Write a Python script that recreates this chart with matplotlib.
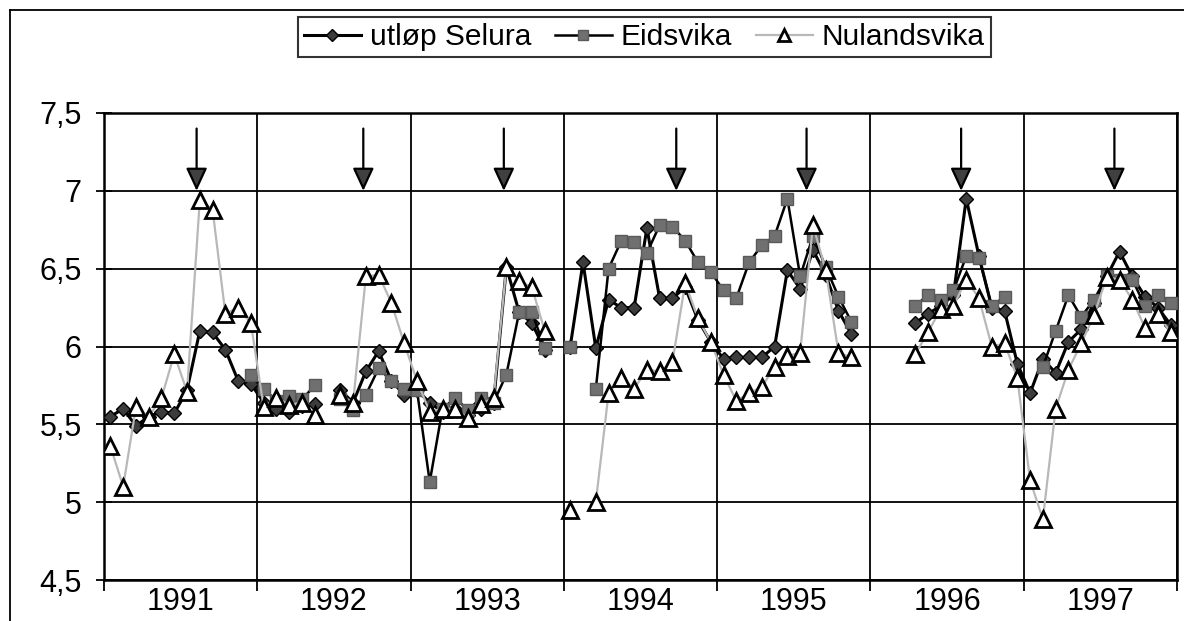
import numpy as np
import matplotlib
matplotlib.use('Agg')
import matplotlib.pyplot as plt
from matplotlib.lines import Line2D

nan = np.nan

# monthly slots, 12 per year, 1991-1997
years = ['1991', '1992', '1993', '1994', '1995', '1996', '1997']

selura = [
    5.55, 5.60, 5.49, 5.55, 5.58, 5.57, 5.72, 6.10, 6.09, 5.98, 5.78, 5.76,
    5.64, 5.60, 5.58, 5.62, 5.63, nan, 5.72, 5.64, 5.84, 5.97, 5.78, 5.69,
    5.72, 5.64, 5.58, 5.60, 5.56, 5.60, 5.64, 6.51, 6.22, 6.15, 5.98, nan,
    6.00, 6.54, 5.99, 6.30, 6.25, 6.25, 6.76, 6.31, 6.31, 6.38, 6.17, 6.03,
    5.92, 5.93, 5.93, 5.93, 6.00, 6.49, 6.37, 6.62, 6.46, 6.23, 6.08, nan,
    nan, nan, nan, 6.15, 6.21, 6.26, 6.33, 6.95, 6.58, 6.25, 6.23, 5.89,
    5.70, 5.92, 5.83, 6.03, 6.11, 6.28, 6.45, 6.61, 6.45, 6.32, 6.25, 6.14,
]

eidsvika = [
    nan, nan, nan, nan, nan, nan, nan, nan, nan, nan, nan, 5.82,
    5.73, 5.65, 5.68, 5.66, 5.75, nan, 5.665, 5.59, 5.69, 5.86, 5.78, 5.73,
    5.72, 5.13, 5.60, 5.67, 5.59, 5.67, 5.64, 5.82, 6.22, 6.22, 5.99, nan,
    6.00, nan, 5.725, 6.50, 6.68, 6.67, 6.60, 6.78, 6.77, 6.68, 6.54, 6.48,
    6.36, 6.31, 6.54, 6.65, 6.71, 6.95, 6.45, 6.71, 6.51, 6.32, 6.16, nan,
    nan, nan, nan, 6.26, 6.33, 6.30, 6.36, 6.58, 6.57, 6.26, 6.32, nan,
    nan, 5.87, 6.10, 6.33, 6.19, 6.30, 6.45, 6.43, 6.43, 6.26, 6.33, 6.28,
]

nulandsvika = [
    5.36, 5.10, 5.61, 5.55, 5.67, 5.95, 5.71, 6.94, 6.88, 6.21, 6.25, 6.15,
    5.61, 5.67, 5.625, 5.64, 5.56, nan, 5.69, 5.64, 6.45, 6.46, 6.28, 6.02,
    5.78, 5.58, 5.60, 5.60, 5.54, 5.63, 5.67, 6.51, 6.42, 6.38, 6.10, nan,
    4.95, nan, 5.00, 5.70, 5.80, 5.73, 5.85, 5.84, 5.90, 6.41, 6.18, 6.03,
    5.82, 5.65, 5.70, 5.74, 5.87, 5.94, 5.96, 6.78, 6.49, 5.96, 5.93, nan,
    nan, nan, nan, 5.95, 6.09, 6.24, 6.26, 6.43, 6.31, 6.00, 6.02, 5.80,
    5.14, 4.89, 5.60, 5.85, 6.02, 6.20, 6.445, 6.43, 6.30, 6.12, 6.21, 6.09,
]

# arrow positions (in month slots from Jan 1991)
arrows = [7.25, 20.3, 31.3, 44.8, 55.0, 67.1, 79.1]

yticks = [4.5, 5, 5.5, 6, 6.5, 7, 7.5]
ytick_labels = ['4,5', '5', '5,5', '6', '6,5', '7', '7,5']

plt.rcParams['font.family'] = ['Liberation Sans', 'DejaVu Sans']

W, H = 1184, 621
fig = plt.figure(figsize=(W / 100, H / 100), dpi=100)
ax = fig.add_axes([104 / W, 1 - 580 / H, (1177 - 104) / W, (580 - 113) / H])

x = np.arange(len(selura)) + 0.5

ax.plot(x, selura, color='black', lw=2.2, marker='D', ms=7.5,
        mfc='#3c3c3c', mec='black', mew=1.0, label='utløp Selura', zorder=3)
ax.plot(x, eidsvika, color='black', lw=1.8, marker='s', ms=9,
        mfc='#707070', mec='#5a5a5a', mew=1.0, label='Eidsvika', zorder=4)
ax.plot(x, nulandsvika, color='#b8b8b8', lw=1.6, marker='^', ms=11,
        mfc='white', mec='black', mew=2.0, label='Nulandsvika', zorder=5)

for ax_x in arrows:
    ax.annotate('', xy=(ax_x, 7.0), xytext=(ax_x, 7.40),
                arrowprops=dict(arrowstyle='-|>,head_length=1.4,head_width=0.65',
                                fc='#404040', ec='black', lw=1.6,
                                shrinkA=0, shrinkB=0), zorder=6)

ax.set_xlim(0, 84)
ax.set_ylim(4.5, 7.5)
ax.set_yticks(yticks)
ax.set_yticklabels(ytick_labels)
ax.set_xticks(np.arange(0, 85, 12))
ax.set_xticklabels([])
ax.set_xticks(np.arange(6, 84, 12), minor=True)
ax.set_xticklabels(years, minor=True)
ax.tick_params(axis='y', direction='inout', length=12, width=1.3,
               labelsize=22, pad=10)
ax.tick_params(axis='x', which='major', direction='out', length=8, width=1.3)
ax.tick_params(axis='x', which='minor', length=0, labelsize=22, pad=5)
ax.grid(True, which='major', color='black', lw=1.3, zorder=1)
ax.set_axisbelow(True)
for sp in ax.spines.values():
    sp.set_linewidth(1.8)

leg = fig.legend(loc='upper left', bbox_to_anchor=(298 / W, 1 - 17 / H),
                 ncol=3, frameon=True, fancybox=False, edgecolor='black',
                 prop={'size': 21.5}, markerscale=0.75,
                 handlelength=1.9, handletextpad=0.3, columnspacing=0.8,
                 borderpad=0.2, borderaxespad=0)
leg.get_frame().set_linewidth(1.5)

# outer chart border (left and top visible in the scan)
fig.add_artist(Line2D([10 / W, 10 / W], [0, 1 - 10 / H], color='black',
                      lw=1.3, transform=fig.transFigure))
fig.add_artist(Line2D([10 / W, 1], [1 - 10 / H, 1 - 10 / H], color='black',
                      lw=1.3, transform=fig.transFigure))

fig.savefig('out.png', dpi=100)
